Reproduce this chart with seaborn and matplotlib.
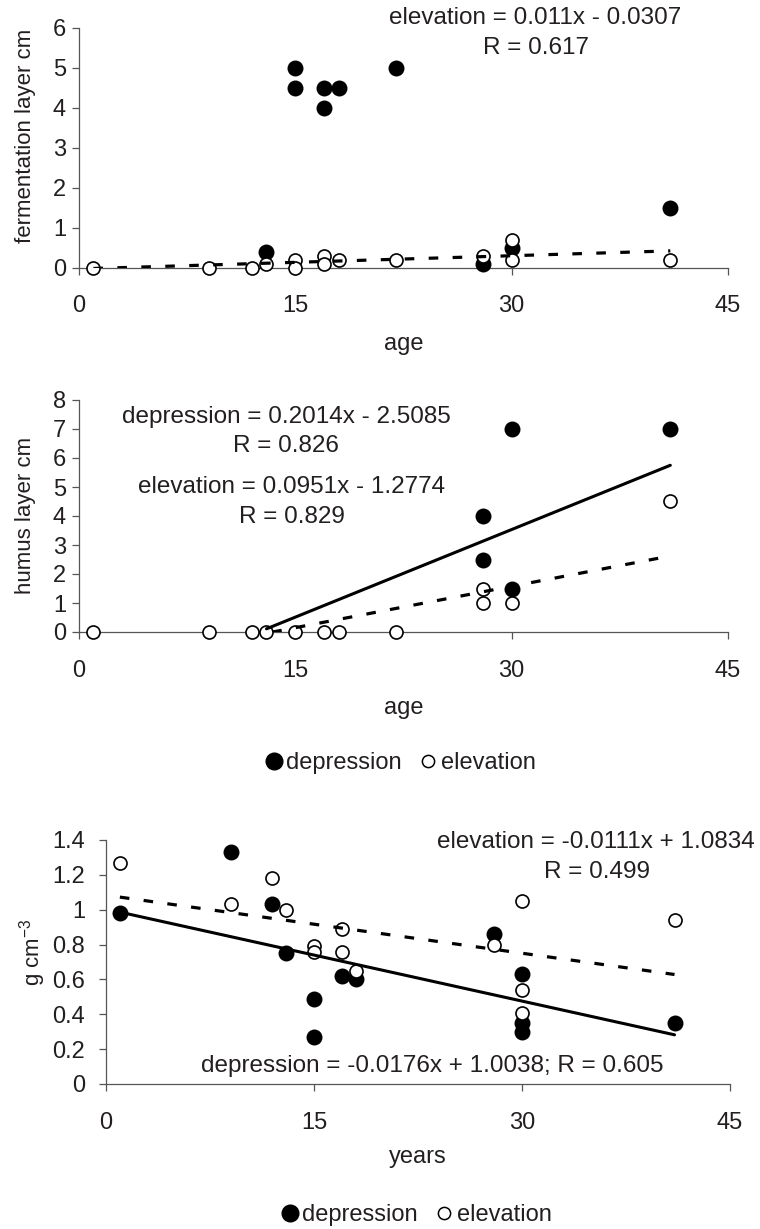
import numpy as np
import pandas as pd
import matplotlib
matplotlib.use('Agg')
import matplotlib.pyplot as plt
import seaborn as sns
from matplotlib.ticker import FuncFormatter
from matplotlib.lines import Line2D

# fermentation layer (cm) vs age
ferm_dep_age = [13, 15, 15, 17, 17, 18, 22, 28, 30, 41]
ferm_dep = [0.4, 5.0, 4.5, 4.5, 4.0, 4.5, 5.0, 0.1, 0.5, 1.5]
ferm_ele_age = [1, 9, 12, 13, 15, 15, 17, 17, 18, 22, 28, 30, 30, 41]
ferm_ele = [0, 0, 0, 0.1, 0.2, 0, 0.3, 0.1, 0.2, 0.2, 0.3, 0.7, 0.2, 0.2]

# humus layer (cm) vs age (depression zeros sit under the open circles)
hum_dep_age = [28, 28, 30, 30, 41]
hum_dep = [4.0, 2.5, 7.0, 1.5, 7.0]
hum_ele_age = [1, 9, 12, 13, 15, 17, 18, 22, 28, 28, 30, 41]
hum_ele = [0, 0, 0, 0, 0, 0, 0, 0, 1.5, 1.0, 1.0, 4.5]

# bulk density (g cm-3) vs years
bd_dep_age = [1, 9, 12, 13, 15, 15, 17, 18, 28, 30, 30, 30, 41]
bd_dep = [0.98, 1.33, 1.03, 0.75, 0.49, 0.27, 0.62, 0.60, 0.86, 0.63, 0.35, 0.30, 0.35]
bd_ele_age = [1, 9, 12, 13, 15, 15, 17, 17, 18, 28, 30, 30, 30, 41]
bd_ele = [1.27, 1.03, 1.18, 1.00, 0.79, 0.76, 0.89, 0.76, 0.65, 0.80, 1.05, 0.54, 0.41, 0.94]

# trendlines: slope, intercept, age range
ferm_ele_fit = [0.011, -0.0307, 1, 41]
hum_dep_fit = [0.2014, -2.5085, 13, 41]
hum_ele_fit = [0.0951, -1.2774, 13.4, 41]
bd_dep_fit = [-0.0176, 1.0038, 1, 41]
bd_ele_fit = [-0.0111, 1.0834, 1, 41]

sns.set_theme(style='ticks')
plt.rcParams['font.family'] = ['Liberation Sans', 'DejaVu Sans']
plt.rcParams['mathtext.fontset'] = 'custom'
plt.rcParams['mathtext.rm'] = 'Liberation Sans'

W, H = 760, 1229
TXT = '#231f20'
AX = '#555555'
FS = 17
FA = 17.5

fig = plt.figure(figsize=(W / 100, H / 100), dpi=100)

def rect(left, top, right, bottom):
    return [left / W, 1 - bottom / H, (right - left) / W, (bottom - top) / H]

def fpos(x, y):
    return (x / W, 1 - y / H)

def make_df(age, val):
    return pd.DataFrame({'age': age, 'val': val})

def trend(ax, fit, dashed):
    xs = np.array([fit[2], fit[3]])
    d = pd.DataFrame({'age': xs, 'val': fit[0] * xs + fit[1]})
    if dashed:
        sns.lineplot(data=d, x='age', y='val', ax=ax, color='black', lw=2.3,
                     linestyle=(0, (3, 4.5)), zorder=5)
    else:
        sns.lineplot(data=d, x='age', y='val', ax=ax, color='black', lw=2.2, zorder=5)

def points(ax, dep_x, dep_y, ele_x, ele_y):
    sns.scatterplot(data=make_df(dep_x, dep_y), x='age', y='val', ax=ax, color='black',
                    s=132, linewidth=0, zorder=3, clip_on=False)
    sns.scatterplot(data=make_df(ele_x, ele_y), x='age', y='val', ax=ax, color='white',
                    edgecolor='black', s=88, linewidth=1.2, zorder=4, clip_on=False)

def style(ax, ymax, ystep, ylabel, xlabel, ylab_xy, xlab_y, ypad):
    ax.set_xlim(0, 45)
    ax.set_ylim(0, ymax)
    ax.set_xticks([0, 15, 30, 45])
    ax.set_yticks(np.arange(0, ymax + ystep / 2, ystep))
    ax.yaxis.set_major_formatter(FuncFormatter(lambda v, p: '{:g}'.format(round(v, 2))))
    sns.despine(ax=ax)
    for s in ['left', 'bottom']:
        ax.spines[s].set_color(AX)
        ax.spines[s].set_linewidth(0.9)
    ax.tick_params(axis='both', direction='out', length=5, width=0.9, color=AX,
                   labelsize=FS, labelcolor=TXT)
    ax.tick_params(axis='x', pad=15)
    ax.tick_params(axis='y', pad=ypad)
    ax.set_ylabel(ylabel, fontsize=16, color=TXT)
    ax.yaxis.label.set_verticalalignment('center')
    ax.yaxis.set_label_coords(*ylab_xy)
    ax.set_xlabel(xlabel, fontsize=FS, color=TXT)
    ax.xaxis.label.set_verticalalignment('center')
    ax.xaxis.set_label_coords(0.5, xlab_y)

# panel 1: fermentation layer
ax1 = fig.add_axes(rect(79, 27.7, 728, 267.7))
trend(ax1, ferm_ele_fit, True)
points(ax1, ferm_dep_age, ferm_dep, ferm_ele_age, ferm_ele)
style(ax1, 6, 1, 'fermentation layer cm', 'age', (-0.082, 0.55), -0.318, 4.3)
fig.text(*fpos(535, 18), 'elevation = 0.011x - 0.0307', ha='center', va='center', fontsize=FA, color=TXT)
fig.text(*fpos(536, 48), 'R = 0.617', ha='center', va='center', fontsize=FA, color=TXT)

# panel 2: humus layer
ax2 = fig.add_axes(rect(79, 400, 728, 632))
trend(ax2, hum_dep_fit, False)
trend(ax2, hum_ele_fit, True)
points(ax2, hum_dep_age, hum_dep, hum_ele_age, hum_ele)
style(ax2, 8, 1, 'humus layer cm', 'age', (-0.082, 0.504), -0.328, 4.3)
fig.text(*fpos(286, 417), 'depression = 0.2014x - 2.5085', ha='center', va='center', fontsize=FA, color=TXT)
fig.text(*fpos(286, 446), 'R = 0.826', ha='center', va='center', fontsize=FA, color=TXT)
fig.text(*fpos(292, 487), 'elevation = 0.0951x - 1.2774', ha='center', va='center', fontsize=FA, color=TXT)
fig.text(*fpos(292, 517), 'R = 0.829', ha='center', va='center', fontsize=FA, color=TXT)

# panel 3: bulk density
ax3 = fig.add_axes(rect(106, 840, 730, 1084))
trend(ax3, bd_dep_fit, False)
trend(ax3, bd_ele_fit, True)
points(ax3, bd_dep_age, bd_dep, bd_ele_age, bd_ele)
style(ax3, 1.4, 0.2, r'g cm$^{\mathregular{-3}}$', 'years', (-0.117, 0.54), -0.30, 10)
fig.text(*fpos(596, 842), 'elevation = -0.0111x + 1.0834', ha='center', va='center', fontsize=FA, color=TXT)
fig.text(*fpos(597, 872), 'R = 0.499', ha='center', va='center', fontsize=FA, color=TXT)
fig.text(*fpos(432, 1066), 'depression = -0.0176x + 1.0038; R = 0.605', ha='center', va='center',
         fontsize=FA, color=TXT)

# legends
handles = [Line2D([], [], ls='none', marker='o', markersize=12, markerfacecolor='black',
                  markeredgecolor='black'),
           Line2D([], [], ls='none', marker='o', markersize=8.8, markerfacecolor='white',
                  markeredgecolor='black', markeredgewidth=1.1)]
labels = ['depression', 'elevation']
for cx, cy in [(400, 763), (416, 1215)]:
    fig.legend(handles, labels, loc='center', bbox_to_anchor=fpos(cx, cy), ncol=2, frameon=False,
               fontsize=FS, handletextpad=0.15, columnspacing=0.7, handlelength=0.8,
               labelcolor=TXT, borderpad=0, borderaxespad=0)

plt.savefig('out.png', dpi=100, facecolor='white')
